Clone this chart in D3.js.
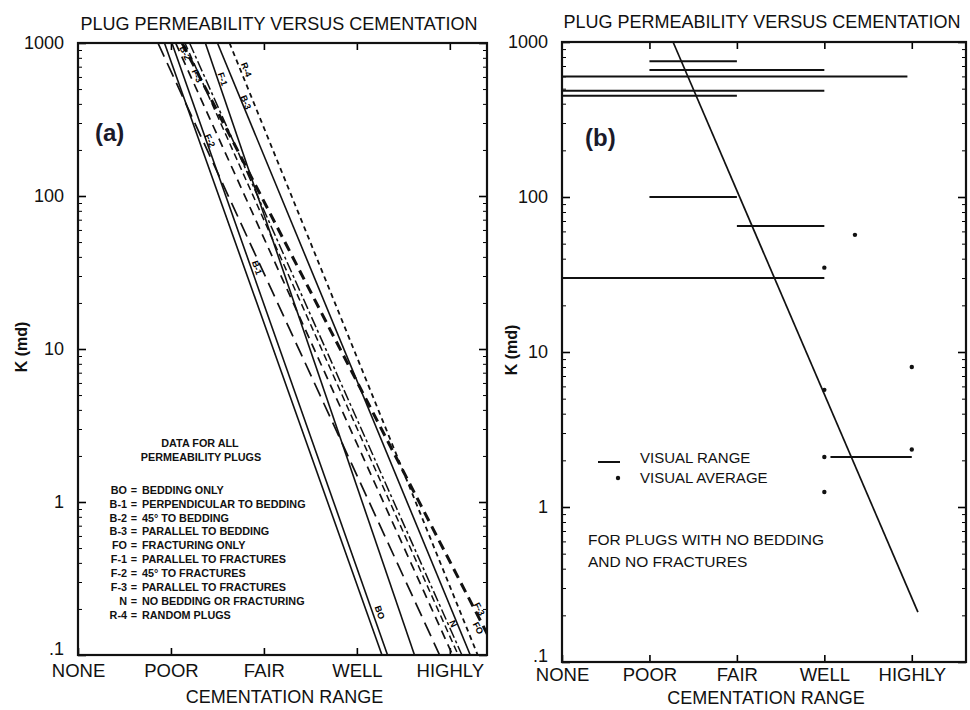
<!DOCTYPE html>
<html>
<head>
<meta charset="utf-8">
<script src="https://cdn.jsdelivr.net/npm/d3@7"></script>
<style>
  body { margin: 0; background: #fff; }
  svg text { font-family: "Liberation Sans", Arial, sans-serif; fill: #111; }
</style>
</head>
<body>
<div id="chart"></div>
<script>
// categories / ticks
const cementation = ["NONE", "POOR", "FAIR", "WELL", "HIGHLY"];
const kTicks = [0.1, 1, 10, 100, 1000];

// panel (a): each trend line given by cementation value at K=1000 and at K=0.1
const plugCodes  = ["BO", "B-1", "F-2", "F-1", "B-2", "F-3", "N", "B-3", "R-4", "FO"];
const cemAtK1000 = [0.93, 1.01, 0.86, 1.37, 1.05, 1.20, 1.15, 1.50, 1.63, 1.12];
const cemAtK01   = [3.27, 3.33, 3.89, 3.62, 4.03, 4.13, 4.09, 4.22, 4.30, 4.52];

// labels written along the lines: text, line it sits on, K where it sits
const lineLabelText = ["B-2", "F-3", "F-1", "R-4", "B-3", "F-2", "B-1", "BO", "N", "F-3", "FO"];
const lineLabelLine = ["B-2", "F-3", "F-1", "R-4", "B-3", "F-2", "B-1", "BO", "N", "FO", "FO"];
const lineLabelK    = [860, 610, 580, 670, 410, 230, 34, 0.19, 0.16, 0.2, 0.15];

const legendCodes = ["BO", "B-1", "B-2", "B-3", "FO", "F-1", "F-2", "F-3", "N", "R-4"];
const legendText = ["BEDDING ONLY", "PERPENDICULAR TO BEDDING", "45\u00b0 TO BEDDING",
  "PARALLEL TO BEDDING", "FRACTURING ONLY", "PARALLEL TO FRACTURES", "45\u00b0 TO FRACTURES",
  "PARALLEL TO FRACTURES", "NO BEDDING OR FRACTURING", "RANDOM PLUGS"];

// panel (b): visual ranges (K, from, to) and visual averages
const rangeK    = [750, 660, 600, 485, 450, 100, 65, 30, 2.1];
const rangeFrom = [1, 1, 0, 0, 0, 1, 2, 0, 3.07];
const rangeTo   = [2, 3, 3.95, 3, 2, 2, 3, 3, 4];
const avgCem = [3.35, 3, 3, 3, 3, 4, 4];
const avgK   = [57, 35, 5.7, 2.1, 1.25, 8, 2.35];
const trendCem = [1.27, 4.07];
const trendK   = [1000, 0.21];

const title = "PLUG PERMEABILITY VERSUS CEMENTATION";

// line styles for panel (a)
const styles = {
  "BO":  {dash: null, w: 1.6},
  "B-1": {dash: null, w: 1.6},
  "F-2": {dash: "15,7", w: 1.7},
  "F-1": {dash: null, w: 1.6},
  "B-2": {dash: "9,6", w: 1.7},
  "F-3": {dash: "11,3,3,3", w: 1.5},
  "N":   {dash: "7,4", w: 1.5},
  "B-3": {dash: null, w: 1.6},
  "R-4": {dash: "5,4", w: 1.8},
  "FO":  {dash: "10,6", w: 3}
};

const W = 970, H = 710;
const svg = d3.select("#chart").append("svg")
    .attr("width", W)
    .attr("height", H)
    .attr("viewBox", [0, 0, W, H]);

function drawPanel({x, y, titleX, titleY, ylabX, ylabY, labelPad, xTitleY}) {
  const g = svg.append("g");
  const [x0, x1] = x.range();
  const [y0, y1] = y.range();  // y0 bottom, y1 top

  const minor = [];
  kTicks.slice(0, -1).forEach(d => { for (let m = 2; m <= 9; m++) minor.push(d * m); });

  // left axis with labels
  g.append("g")
      .attr("transform", `translate(${x0},0)`)
      .call(d3.axisLeft(y).tickValues(kTicks)
          .tickFormat(d => d === 0.1 ? ".1" : d3.format("d")(d))
          .tickSizeInner(-8).tickSizeOuter(0).tickPadding(14))
      .call(a => a.select(".domain").remove())
      .call(a => a.selectAll("line").attr("stroke-width", 1.6))
      .call(a => a.selectAll("text")
          .attr("font-size", 18).attr("fill", "#111")
          .attr("dy", d => d === 0.1 ? "-0.05em" : "0.32em"));
  g.append("g")
      .attr("transform", `translate(${x0},0)`)
      .call(d3.axisLeft(y).tickValues(minor).tickFormat("").tickSizeInner(-4).tickSizeOuter(0))
      .call(a => a.select(".domain").remove());

  // right axis
  g.append("g")
      .attr("transform", `translate(${x1},0)`)
      .call(d3.axisRight(y).tickValues(kTicks).tickFormat("").tickSizeInner(-8).tickSizeOuter(0))
      .call(a => a.select(".domain").remove())
      .call(a => a.selectAll("line").attr("stroke-width", 1.6));
  g.append("g")
      .attr("transform", `translate(${x1},0)`)
      .call(d3.axisRight(y).tickValues(minor).tickFormat("").tickSizeInner(-4).tickSizeOuter(0))
      .call(a => a.select(".domain").remove());

  // bottom axis with category labels
  g.append("g")
      .attr("transform", `translate(0,${y0})`)
      .call(d3.axisBottom(x).tickValues(d3.range(cementation.length))
          .tickFormat(i => cementation[i]).tickSizeInner(-7).tickSizeOuter(0).tickPadding(labelPad))
      .call(a => a.select(".domain").remove())
      .call(a => a.selectAll("line").attr("stroke-width", 1.6))
      .call(a => a.selectAll("text").attr("font-size", 18.5).attr("fill", "#111"));
  g.append("g")
      .attr("transform", `translate(0,${y1})`)
      .call(d3.axisTop(x).tickValues(d3.range(1, cementation.length))
          .tickFormat("").tickSizeInner(-7).tickSizeOuter(0))
      .call(a => a.select(".domain").remove())
      .call(a => a.selectAll("line").attr("stroke-width", 1.6));

  // frame
  g.append("rect")
      .attr("x", x0).attr("y", y1)
      .attr("width", x1 - x0).attr("height", y0 - y1)
      .attr("fill", "none").attr("stroke", "#111").attr("stroke-width", 2.2);

  g.append("text")
      .attr("x", titleX).attr("y", titleY)
      .attr("text-anchor", "middle")
      .attr("font-size", 18)
      .text(title);

  g.append("text")
      .attr("x", (x0 + x1) / 2 + 2).attr("y", xTitleY)
      .attr("text-anchor", "middle")
      .attr("font-size", 18)
      .text("CEMENTATION RANGE");

  g.append("text")
      .attr("transform", `translate(${ylabX},${ylabY}) rotate(-90)`)
      .attr("text-anchor", "middle")
      .attr("dy", "0.35em")
      .attr("font-size", 16)
      .attr("font-weight", "bold")
      .text("K (md)");

  return g;
}

// ---------- panel (a) ----------
const xA = d3.scaleLinear([0, 4.4], [78, 487]);
const yA = d3.scaleLog([0.1, 1000], [655, 43]);

const gA = drawPanel({x: xA, y: yA, titleX: 279, titleY: 30, ylabX: 21, ylabY: 347,
  labelPad: 9, xTitleY: 703});

gA.append("clipPath").attr("id", "clipA")
  .append("rect")
    .attr("x", xA.range()[0]).attr("y", yA.range()[1])
    .attr("width", xA.range()[1] - xA.range()[0])
    .attr("height", yA.range()[0] - yA.range()[1]);

const trendLines = plugCodes.map((code, i) => ({
  code,
  pts: [[cemAtK1000[i], 1000], [cemAtK01[i], 0.1]]
}));

const line = d3.line().x(d => xA(d[0])).y(d => yA(d[1]));

gA.append("g")
    .attr("clip-path", "url(#clipA)")
  .selectAll("path")
  .data(trendLines)
  .join("path")
    .attr("fill", "none")
    .attr("stroke", "#111")
    .attr("stroke-width", d => styles[d.code].w)
    .attr("stroke-dasharray", d => styles[d.code].dash)
    .attr("d", d => line(d.pts));

// labels along lines
function cemAt(code, k) {
  const t = trendLines.find(l => l.code === code);
  const f = (3 - Math.log10(k)) / 4;
  return t.pts[0][0] + (t.pts[1][0] - t.pts[0][0]) * f;
}
function angleOf(code) {
  const t = trendLines.find(l => l.code === code);
  const dx = xA(t.pts[1][0]) - xA(t.pts[0][0]);
  const dy = yA(t.pts[1][1]) - yA(t.pts[0][1]);
  return Math.atan2(dy, dx) * 180 / Math.PI;
}
const labelShift = [5, -7, 5, 6, 4, 7, 6, 13, 9, 5, -6];
gA.append("g")
  .selectAll("text")
  .data(lineLabelText)
  .join("text")
    .attr("transform", (d, i) => {
      const c = lineLabelLine[i];
      return `translate(${xA(cemAt(c, lineLabelK[i])) + labelShift[i]},${yA(lineLabelK[i])}) rotate(${angleOf(c)})`;
    })
    .attr("text-anchor", "middle")
    .attr("dy", "0.35em")
    .attr("font-size", 9)
    .attr("font-weight", "bold")
    .style("fill", "#000")
    .text(d => d);

gA.append("text")
    .attr("x", 95).attr("y", 133)
    .attr("dy", "0.35em")
    .attr("font-family", "'Open Sans', sans-serif")
    .attr("font-weight", "bold")
    .attr("font-size", 24)
    .style("fill", "#1a1a2a")
    .text("(a)");

// legend (a)
const legA = gA.append("g").attr("font-weight", "bold").attr("font-size", 10.8);
legA.append("text").attr("x", 200).attr("y", 447).attr("text-anchor", "middle").text("DATA FOR ALL");
legA.append("text").attr("x", 201).attr("y", 461).attr("text-anchor", "middle").text("PERMEABILITY PLUGS");
const rows = legA.selectAll("g.row")
  .data(legendCodes)
  .join("g")
    .attr("class", "row")
    .attr("transform", (d, i) => `translate(0,${490 + i * 13.9})`);
rows.append("text").attr("x", 127).attr("dy", "0.35em").attr("text-anchor", "end").text(d => d);
rows.append("text").attr("x", 134).attr("dy", "0.35em").attr("text-anchor", "middle").text("=");
rows.append("text").attr("x", 142).attr("dy", "0.35em").text((d, i) => legendText[i]);

// ---------- panel (b) ----------
const xB = d3.scaleLinear([0, 4.62], [562, 966]);
const yB = d3.scaleLog([0.1, 1000], [662, 42]);

const gB = drawPanel({x: xB, y: yB, titleX: 762, titleY: 28, ylabX: 511, ylabY: 350,
  labelPad: 6, xTitleY: 704});

gB.append("g")
  .selectAll("line")
  .data(rangeK)
  .join("line")
    .attr("x1", (d, i) => xB(rangeFrom[i]))
    .attr("x2", (d, i) => xB(rangeTo[i]))
    .attr("y1", d => yB(d))
    .attr("y2", d => yB(d))
    .attr("stroke", "#111")
    .attr("stroke-width", 2);

gB.append("g")
  .selectAll("circle")
  .data(avgK)
  .join("circle")
    .attr("cx", (d, i) => xB(avgCem[i]))
    .attr("cy", d => yB(d))
    .attr("r", 2.2)
    .attr("fill", "#111");

gB.append("path")
    .attr("fill", "none")
    .attr("stroke", "#111")
    .attr("stroke-width", 1.7)
    .attr("d", d3.line().x(d => xB(d[0])).y(d => yB(d[1]))(trendCem.map((c, i) => [c, trendK[i]])));

gB.append("text")
    .attr("x", 585).attr("y", 138)
    .attr("dy", "0.35em")
    .attr("font-family", "'Open Sans', sans-serif")
    .attr("font-weight", "bold")
    .attr("font-size", 24)
    .style("fill", "#1a1a2a")
    .text("(b)");

// legend (b)
const legB = gB.append("g").attr("font-size", 15);
legB.append("line").attr("x1", 598).attr("x2", 620).attr("y1", 462).attr("y2", 462)
    .attr("stroke", "#111").attr("stroke-width", 2);
legB.append("text").attr("x", 640).attr("y", 463).text("VISUAL RANGE");
legB.append("circle").attr("cx", 618).attr("cy", 478).attr("r", 2.2).attr("fill", "#111");
legB.append("text").attr("x", 640).attr("y", 483).text("VISUAL AVERAGE");
legB.append("text").attr("x", 588).attr("y", 545).attr("font-size", 15.5).text("FOR PLUGS WITH NO BEDDING");
legB.append("text").attr("x", 588).attr("y", 567).attr("font-size", 15.5).text("AND NO FRACTURES");
</script>
</body>
</html>
